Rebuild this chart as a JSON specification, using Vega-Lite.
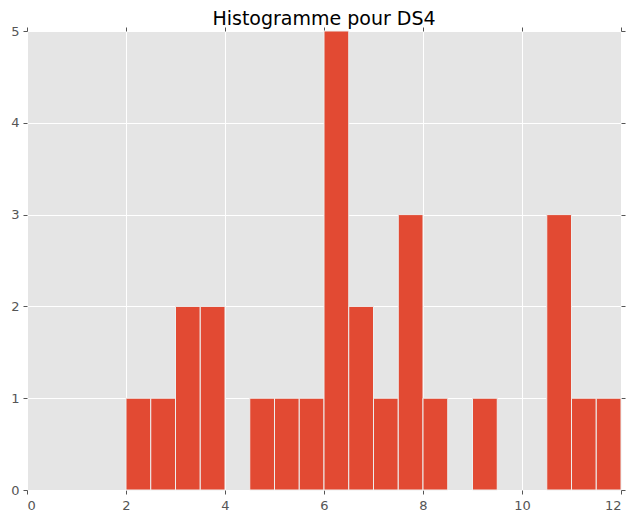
{
  "$schema": "https://vega.github.io/schema/vega-lite/v6.json",
  "autosize": {"type": "none"},
  "width": 594,
  "height": 459,
  "padding": {"left": 27, "top": 31, "right": 10, "bottom": 25},
  "background": "white",
  "title": {"text": "Histogramme pour DS4", "font": "DejaVu Sans", "fontSize": 19, "fontWeight": "normal", "color": "black", "offset": -4, "anchor": "middle"},
  "config": {
    "view": {"fill": "#E5E5E5", "stroke": null},
    "axis": {"labelFont": "DejaVu Sans", "labelFontSize": 13, "labelColor": "#555555", "tickColor": "#555555", "tickSize": 4, "domain": false, "gridColor": "white", "gridWidth": 1, "title": null}
  },
  "data": {"values": [
    {"start": 2.0, "end": 2.5, "count": 1},
    {"start": 2.5, "end": 3.0, "count": 1},
    {"start": 3.0, "end": 3.5, "count": 2},
    {"start": 3.5, "end": 4.0, "count": 2},
    {"start": 4.5, "end": 5.0, "count": 1},
    {"start": 5.0, "end": 5.5, "count": 1},
    {"start": 5.5, "end": 6.0, "count": 1},
    {"start": 6.0, "end": 6.5, "count": 5},
    {"start": 6.5, "end": 7.0, "count": 2},
    {"start": 7.0, "end": 7.5, "count": 1},
    {"start": 7.5, "end": 8.0, "count": 3},
    {"start": 8.0, "end": 8.5, "count": 1},
    {"start": 9.0, "end": 9.5, "count": 1},
    {"start": 10.5, "end": 11.0, "count": 3},
    {"start": 11.0, "end": 11.5, "count": 1},
    {"start": 11.5, "end": 12.0, "count": 1}
  ]},
  "layer": [
    {
      "mark": {"type": "rect", "color": "#E24A33", "stroke": "#EEEEEE", "strokeWidth": 1},
      "encoding": {
        "x": {"field": "start", "type": "quantitative", "scale": {"domain": [0, 12], "nice": false, "zero": false},
              "axis": {"values": [0, 2, 4, 6, 8, 10, 12], "grid": true, "labelPadding": 5, "labelFontSize": 13, "labelFont": "DejaVu Sans"}},
        "x2": {"field": "end"},
        "y": {"field": "count", "type": "quantitative", "scale": {"domain": [0, 5], "nice": false},
              "axis": {"values": [0, 1, 2, 3, 4, 5], "grid": true, "labelPadding": 4, "labelFontSize": 13, "labelFont": "DejaVu Sans"}},
        "y2": {"datum": 0}
      }
    },
    {
      "mark": {"type": "point", "opacity": 0},
      "encoding": {
        "x": {"field": "start", "type": "quantitative", "scale": {"domain": [0, 12], "nice": false, "zero": false}, "axis": {"orient": "top", "values": [0, 2, 4, 6, 8, 10, 12], "labels": false, "grid": false}},
        "y": {"field": "count", "type": "quantitative", "scale": {"domain": [0, 5], "nice": false}, "axis": {"orient": "right", "values": [0, 1, 2, 3, 4, 5], "labels": false, "grid": false}}
      }
    }
  ],
  "resolve": {"scale": {"x": "independent", "y": "independent"}, "axis": {"x": "independent", "y": "independent"}}
}
